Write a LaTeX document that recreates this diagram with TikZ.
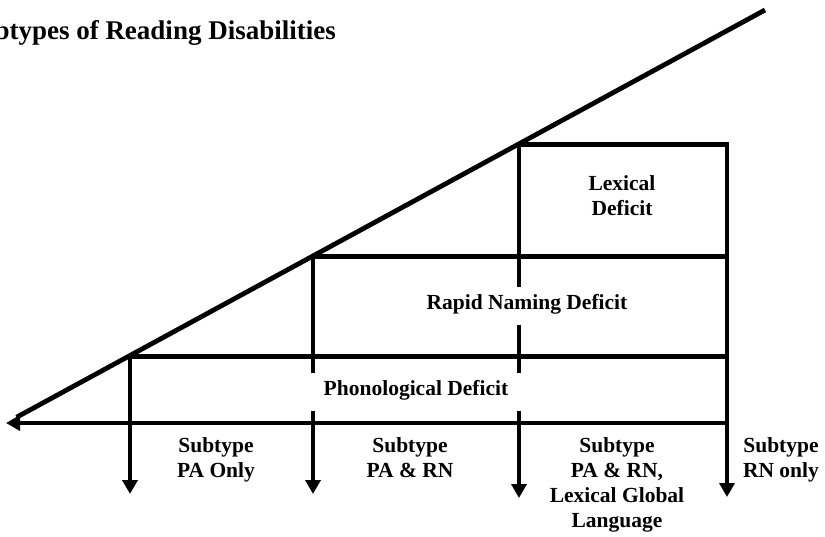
\documentclass[tikz,border=0pt]{standalone}
\usepackage{fontspec}
\setmainfont{Liberation Serif}
\usetikzlibrary{arrows.meta,calc}
\begin{document}
\begin{tikzpicture}[x=1pt,y=-1pt,
  rule/.style={line width=4.8pt,line join=miter},
  arr/.style={rule,-{Triangle[length=14pt,width=15pt]}},
  lbl/.style={font=\fontsize{21.5pt}{25pt}\selectfont\bfseries,align=center,inner sep=0pt},
  sub/.style={lbl,anchor=north},
  ttl/.style={font=\fontsize{27pt}{30pt}\selectfont\bfseries,inner sep=0pt}]
\useasboundingbox (0,0) rectangle (825,536);
\clip (0,0) rectangle (825,536);
% key points
\coordinate (top) at (765,10);
\coordinate (tip) at (6,423);
\coordinate (P) at (130,356.5);
\coordinate (R) at (313,256.6);
\coordinate (L) at (519,144.2);
\coordinate (Lr) at (727,144.2);
\coordinate (Rr) at (727,256.6);
\coordinate (Pr) at (727,356.5);
\coordinate (Br) at (727,423);
\coordinate (Ptip) at (130,494);
\coordinate (Rtip) at (313,494);
\coordinate (Ltip) at (519,498);
\coordinate (RNtip) at (727,497);
% title
\node[ttl,anchor=base east] (title) at (336,39) {Subtypes of Reading Disabilities};
% diagonal and baseline
\draw[rule] (top) -- ($(tip)!0.014!(top)$);
\draw[arr] (Br) -- (tip);
% horizontal tops
\draw[arr] (L) -- (Lr) -- (RNtip);
\draw[rule] (R) -- (Rr);
\draw[rule] (P) -- (Pr);
% verticals
\draw[arr] (P) -- (Ptip);
\draw[rule] (R) -- (313,373);
\draw[arr] (313,411) -- (Rtip);
\draw[rule] (L) -- (519,287);
\draw[rule] (519,325) -- (519,373);
\draw[arr] (519,411) -- (Ltip);
% labels
\node[lbl] (lex) at (622,196) {Lexical\\Deficit};
\node[lbl] (rn) at (527,304) {Rapid Naming Deficit};
\node[lbl] (ph) at (416,390) {Phonological Deficit};
\node[sub] (s1) at (216,437) {Subtype\\PA Only};
\node[sub] (s2) at (410,437) {Subtype\\PA \& RN};
\node[sub] (s3) at (617,437) {Subtype\\PA \& RN,\\Lexical Global\\Language};
\node[sub] (s4) at (781,437) {Subtype\\RN only};
\end{tikzpicture}
\end{document}
